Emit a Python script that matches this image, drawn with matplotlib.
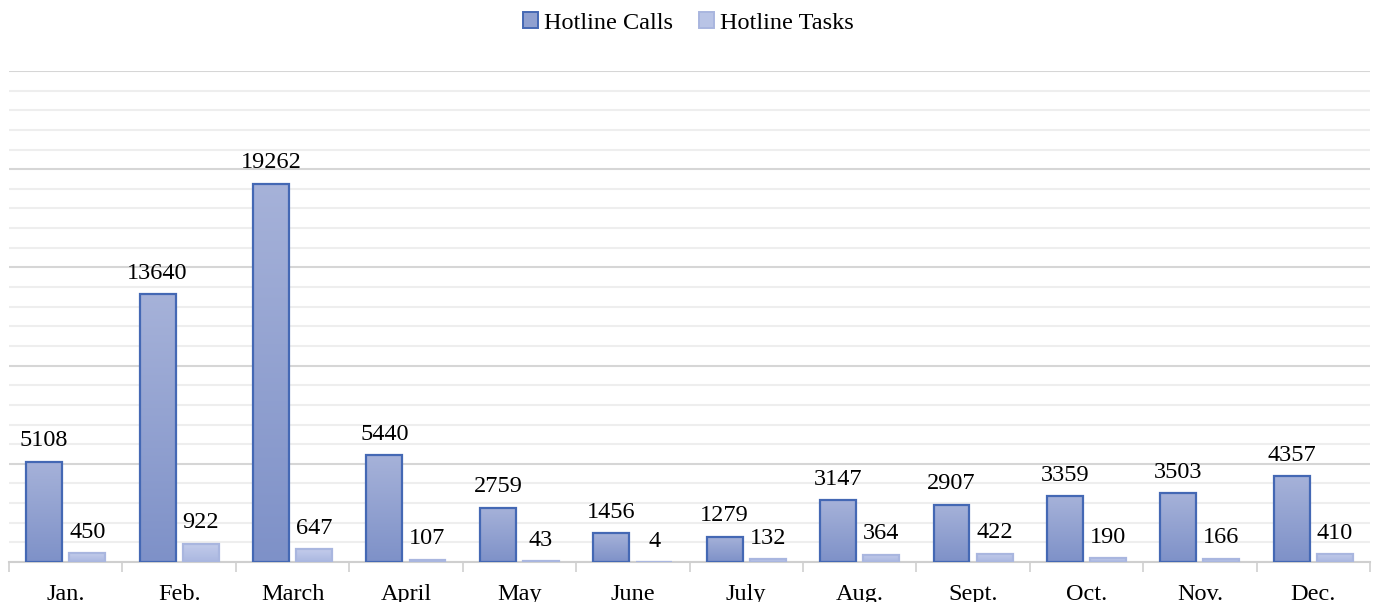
import matplotlib
matplotlib.use("Agg")
import matplotlib.pyplot as plt
import numpy as np
from matplotlib.colors import LinearSegmentedColormap
from matplotlib.ticker import MultipleLocator
from matplotlib.patches import Patch

months = ["Jan.", "Feb.", "March", "April", "May", "June", "July",
          "Aug.", "Sept.", "Oct.", "Nov.", "Dec."]
hotline_calls = [5108, 13640, 19262, 5440, 2759, 1456, 1279, 3147, 2907, 3359, 3503, 4357]
hotline_tasks = [450, 922, 647, 107, 43, 4, 132, 364, 422, 190, 166, 410]
series_names = ["Hotline Calls", "Hotline Tasks"]

plt.rcParams['font.family'] = ['Liberation Serif', 'DejaVu Serif']

W, H = 1377, 602
FS = 17.5
fig = plt.figure(figsize=(W / 100, H / 100), dpi=100)
ax = fig.add_axes([9 / W, 40 / H, (1370 - 9) / W, (562 - 71) / H])

x = np.arange(len(months))
bw = 0.317
off = 0.19

calls_cmap = LinearSegmentedColormap.from_list("c", ["#7e91c8", "#a6b2d9"])
tasks_cmap = LinearSegmentedColormap.from_list("t", ["#aab7e0", "#c3cceb"])

bars_c = ax.bar(x - off, hotline_calls, bw, facecolor="none",
                edgecolor="#4468b4", linewidth=1.6, zorder=4)
bars_t = ax.bar(x + off, hotline_tasks, bw, facecolor="none",
                edgecolor="#a9b6df", linewidth=1.6, zorder=4)

grad = np.linspace(0, 1, 256).reshape(-1, 1)
for bars, cmap in ((bars_c, calls_cmap), (bars_t, tasks_cmap)):
    for b in bars:
        x0, y0 = b.get_x(), b.get_y()
        w, h = b.get_width(), b.get_height()
        if h <= 0:
            continue
        ax.imshow(grad, cmap=cmap, origin="lower", aspect="auto",
                  extent=(x0, x0 + w, y0, y0 + h), zorder=3,
                  interpolation="bilinear")

for bars, vals in ((bars_c, hotline_calls), (bars_t, hotline_tasks)):
    for b, v in zip(bars, vals):
        ax.annotate(f"{v}", (b.get_x() + b.get_width() / 2, b.get_height()),
                    xytext=(0, 7.5), textcoords="offset points",
                    ha="center", va="bottom", fontsize=FS, color="black",
                    zorder=5)

ax.set_xlim(-0.5, len(months) - 0.5)
ax.set_ylim(0, 25000)
ax.yaxis.set_major_locator(MultipleLocator(5000))
ax.yaxis.set_minor_locator(MultipleLocator(1000))
ax.grid(axis="y", which="major", color="#d6d6d6", linewidth=1.5, zorder=0)
ax.grid(axis="y", which="minor", color="#eeeeee", linewidth=1.5, zorder=0)
ax.set_axisbelow(True)
ax.tick_params(axis="y", which="both", left=False, labelleft=False)

ax.set_xticks(x)
ax.set_xticklabels(months, fontsize=FS, color="black")
ax.set_xticks(np.arange(len(months) + 1) - 0.5, minor=True)
ax.tick_params(axis="x", which="major", length=0, pad=16)
ax.tick_params(axis="x", which="minor", length=7, width=1.2, color="#cfcfcf")

for s in ("top", "right", "left"):
    ax.spines[s].set_visible(False)
ax.spines["bottom"].set_color("#cfcfcf")
ax.spines["bottom"].set_linewidth(1.5)

handles = [Patch(facecolor="#8fa0d0", edgecolor="#4468b4", linewidth=1.4),
           Patch(facecolor="#b9c4e6", edgecolor="#a9b6df", linewidth=1.4)]
fig.legend(handles, series_names, loc="center", bbox_to_anchor=(0.5, 1 - 23 / H),
           ncol=2, frameon=False, fontsize=FS, handlelength=0.6,
           handleheight=0.6, handletextpad=0.25, columnspacing=1.1)

fig.savefig("out.png", dpi=100)
